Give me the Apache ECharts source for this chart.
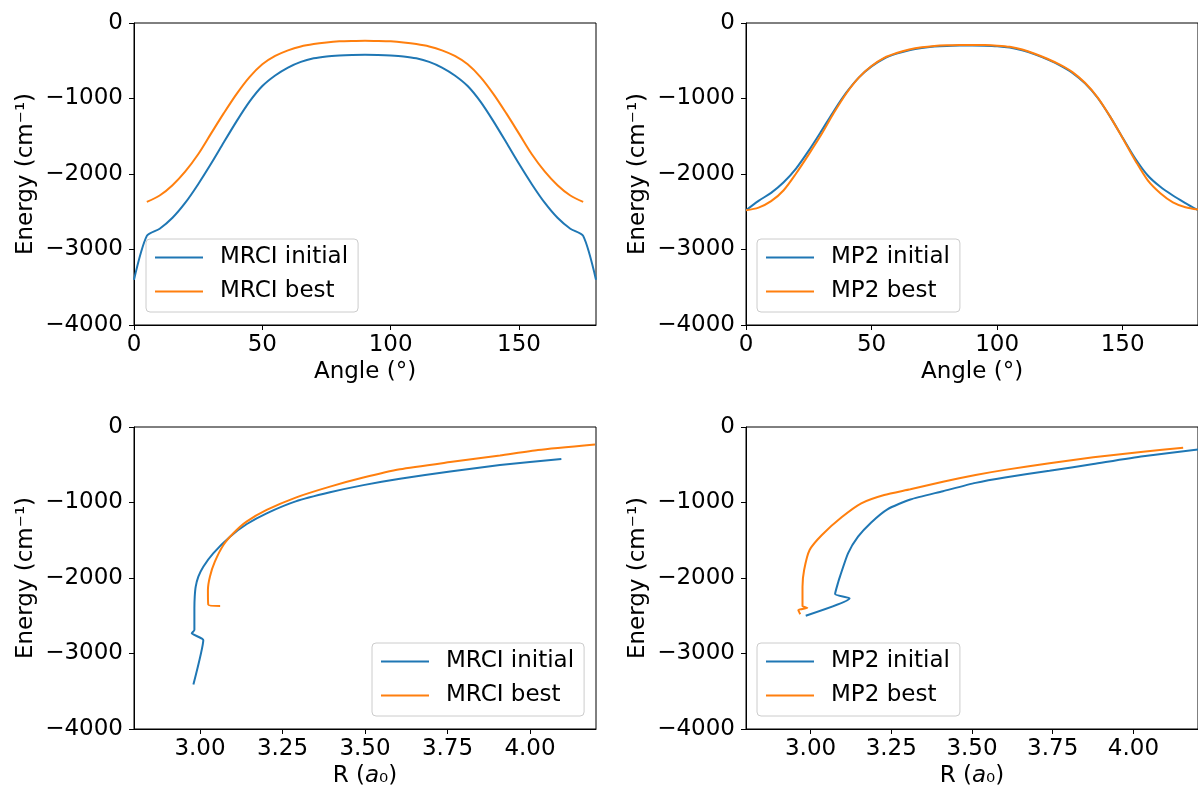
<!DOCTYPE html>
<html>
<head>
<meta charset="utf-8">
<title>Energy scans</title>
<script src="https://cdn.jsdelivr.net/npm/echarts@6.0.0/dist/echarts.min.js"></script>
<style>
html,body{margin:0;padding:0;background:#fff;}
#main{width:1198px;height:790px;}
</style>
</head>
<body>
<div id="main"></div>
<script>
// angle scans (deg) and energies (cm-1)
var angles = [0,5,10,15,20,25,30,35,40,45,50,55,60,65,70,75,80,85,90,95,100,105,110,115,120,125,130,135,140,145,150,155,160,165,170,175,180];
var anglesBest = [5,10,15,20,25,30,35,40,45,50,55,60,65,70,75,80,85,90,95,100,105,110,115,120,125,130,135,140,145,150,155,160,165,170,175];

var mrciInitialA = [-3400,-2820,-2725,-2580,-2380,-2135,-1865,-1580,-1300,-1042,-835,-695,-590,-515,-468,-443,-430,-423,-420,-423,-430,-443,-468,-515,-590,-695,-835,-1042,-1300,-1580,-1865,-2135,-2380,-2580,-2725,-2820,-3400];
var mrciBestA = [-2370,-2285,-2148,-1965,-1738,-1465,-1194,-938,-716,-546,-436,-362,-310,-278,-257,-243,-237,-234,-237,-243,-257,-278,-310,-362,-436,-546,-716,-938,-1194,-1465,-1738,-1965,-2148,-2285,-2370];

var mp2InitialA = [-2480,-2355,-2250,-2110,-1925,-1690,-1432,-1165,-920,-720,-575,-470,-405,-360,-330,-312,-303,-299,-298,-300,-307,-325,-362,-415,-482,-560,-660,-800,-990,-1240,-1520,-1795,-2020,-2170,-2285,-2385,-2480];
var mp2BestA = [-2480,-2445,-2360,-2215,-1990,-1740,-1478,-1190,-930,-720,-570,-462,-397,-352,-322,-304,-295,-291,-290,-292,-300,-316,-352,-407,-474,-552,-650,-792,-985,-1240,-1525,-1820,-2085,-2255,-2375,-2440,-2470];

// same paths against R (a0)
var mrciInitialR = [2.980,3.010,2.975,2.983,2.983,2.984,2.987,2.995,3.010,3.040,3.091,3.142,3.202,3.290,3.394,3.495,3.606,3.758,3.909,4.095];
var mrciInitialE = [-3410,-2821,-2733,-2689,-2400,-2250,-2115,-1982,-1850,-1673,-1453,-1285,-1143,-985,-865,-770,-685,-590,-503,-425];
var mrciBestR = [3.061,3.025,3.024,3.030,3.045,3.071,3.101,3.141,3.202,3.290,3.394,3.495,3.606,3.758,3.909,4.024,4.197];
var mrciBestE = [-2371,-2352,-2160,-1982,-1784,-1563,-1408,-1254,-1099,-935,-790,-670,-560,-465,-378,-305,-232];

var mp2InitialR = [2.985,3.121,3.076,3.086,3.091,3.116,3.147,3.187,3.238,3.309,3.410,3.511,3.602,3.740,3.876,4.030,4.200];
var mp2InitialE = [-2499,-2269,-2212,-2049,-1982,-1673,-1453,-1267,-1090,-960,-850,-740,-668,-580,-490,-388,-298];
var mp2BestR = [2.968,2.962,2.990,2.975,2.975,2.980,2.997,3.035,3.096,3.157,3.228,3.309,3.410,3.511,3.602,3.740,3.876,4.030,4.154];
var mp2BestE = [-2480,-2425,-2395,-2370,-2115,-1894,-1629,-1430,-1196,-1011,-901,-825,-724,-636,-568,-481,-401,-327,-274];

var angleTicks = [0,50,100,150];
var rTicks = [3.0,3.25,3.5,3.75,4.0];

var BLUE = '#1f77b4';
var ORANGE = '#ff7f0e';
var FONT = 'DejaVu Sans';
var FS = 23;

function pairs(xs, ys){
    var out = [];
    for(var i = 0;i<xs.length;i++){
        out.push([xs[i], ys[i]]);
    }
    return out;
}

function minusFmt(v){
    return v < 0 ? '\u2212' + Math.abs(v) : String(v);
}

var grids = [
    {left:134, top:23, width:462, height:302},
    {left:746, top:23, width:462, height:302},
    {left:134, top:427, width:462, height:302},
    {left:746, top:427, width:462, height:302}
];
for(var g = 0;g<grids.length;g++){
    grids[g].show = true;
    grids[g].borderColor = '#000';
    grids[g].borderWidth = 1;
    grids[g].backgroundColor = 'transparent';
    grids[g].containLabel = false;
}

function xAxisFor(idx, isAngle){
    var ticks = isAngle ? angleTicks : rTicks;
    return {
        type:'value',
        gridIndex:idx,
        min: isAngle ? 0 : 2.8,
        max: isAngle ? 180 : 4.2,
        name: isAngle ? 'Angle (\u00b0)' : 'R ({it|a}\u2080)',
        nameLocation:'middle',
        nameGap:36,
        nameTextStyle:{
            fontFamily:FONT, fontSize:FS, color:'#000',
            rich:{it:{fontFamily:FONT, fontSize:FS, fontStyle:'italic', color:'#000'}}
        },
        axisLine:{show:true, onZero:false, lineStyle:{color:'#000', width:1}},
        axisTick:{show:true, length:5, customValues:ticks, lineStyle:{color:'#000', width:1}},
        axisLabel:{
            show:true, margin:9, customValues:ticks,
            fontFamily:FONT, fontSize:FS, color:'#000',
            formatter:function(v){ return isAngle ? String(v) : v.toFixed(2); }
        },
        splitLine:{show:false}
    };
}

function yAxisFor(idx){
    return {
        type:'value',
        gridIndex:idx,
        min:-4000,
        max:0,
        interval:1000,
        name:'Energy (cm\u207b\u00b9)',
        nameLocation:'middle',
        nameGap:96,
        nameTextStyle:{fontFamily:FONT, fontSize:FS, color:'#000'},
        axisLine:{show:true, onZero:false, lineStyle:{color:'#000', width:1}},
        axisTick:{show:true, length:5, lineStyle:{color:'#000', width:1}},
        axisLabel:{show:true, margin:11, fontFamily:FONT, fontSize:FS, color:'#000', formatter:minusFmt},
        splitLine:{show:false}
    };
}

function lineSeries(name, data, color, idx, sm){
    return {
        type:'line',
        name:name,
        data:data,
        xAxisIndex:idx,
        yAxisIndex:idx,
        showSymbol:false,
        symbol:'none',
        smooth:sm,
        clip:true,
        color:color,
        lineStyle:{color:color, width:2},
        emphasis:{disabled:true}
    };
}

function legendAt(names, left, top){
    return {
        data:names,
        orient:'vertical',
        left:left,
        top:top,
        padding:[7,10,9,9],
        itemGap:11,
        itemWidth:48,
        itemHeight:2,
        icon:'rect',
        backgroundColor:'rgba(255,255,255,0.8)',
        borderColor:'#cccccc',
        borderWidth:1,
        borderRadius:4,
        selectedMode:false,
        textStyle:{fontFamily:FONT, fontSize:FS, color:'#000', lineHeight:23, padding:[0,0,0,12]}
    };
}

var option = {
    animation:false,
    backgroundColor:'#fff',
    textStyle:{fontFamily:FONT},
    grid:grids,
    xAxis:[xAxisFor(0,true), xAxisFor(1,true), xAxisFor(2,false), xAxisFor(3,false)],
    yAxis:[yAxisFor(0), yAxisFor(1), yAxisFor(2), yAxisFor(3)],
    legend:[
        legendAt(['MRCI initial','MRCI best'], 146, 239),
        legendAt(['MP2 initial','MP2 best'], 757, 239),
        legendAt(['MRCI initial','MRCI best'], 372, 643),
        legendAt(['MP2 initial','MP2 best'], 757, 643)
    ],
    series:[
        lineSeries('MRCI initial', pairs(angles, mrciInitialA), BLUE, 0, 0.25),
        lineSeries('MRCI best', pairs(anglesBest, mrciBestA), ORANGE, 0, 0.3),
        lineSeries('MP2 initial', pairs(angles, mp2InitialA), BLUE, 1, 0.3),
        lineSeries('MP2 best', pairs(angles, mp2BestA), ORANGE, 1, 0.3),
        lineSeries('MRCI initial', pairs(mrciInitialR, mrciInitialE), BLUE, 2, 0.15),
        lineSeries('MRCI best', pairs(mrciBestR, mrciBestE), ORANGE, 2, 0.2),
        lineSeries('MP2 initial', pairs(mp2InitialR, mp2InitialE), BLUE, 3, 0.2),
        lineSeries('MP2 best', pairs(mp2BestR, mp2BestE), ORANGE, 3, 0.2)
    ]
};

var chart = echarts.init(document.getElementById('main'), null, {renderer:'canvas'});
chart.setOption(option);
</script>
</body>
</html>
